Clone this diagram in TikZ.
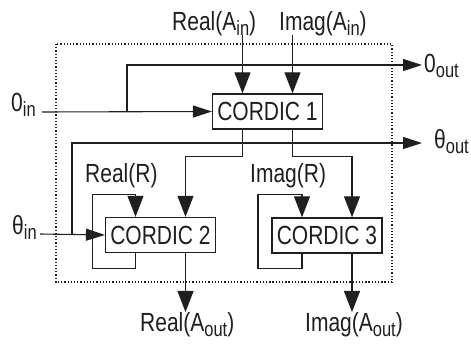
\documentclass[tikz,border=0pt]{standalone}
\usepackage{fontspec}
\setmainfont{Liberation Sans}
\usepackage{tikz}
\usetikzlibrary{arrows.meta, calc}
\newcommand{\pedice}[1]{\raisebox{-4pt}{\fontsize{16.5}{16.5}\selectfont #1}}
\tikzset{
    linea/.style = {line width = 1.1pt, black!88},
    frecciaH/.style = {linea, -{Triangle[length=19pt, width=12pt]}},
    frecciaV/.style = {linea, -{Triangle[length=21pt, width=16pt]}},
    blocco/.style = {draw, linea, fill = white, inner sep = 0pt, minimum width = 110pt, minimum height = 28pt, yscale = 1.25, font = \fontsize{21}{21}\selectfont, text = black!88},
    etichetta/.style = {inner sep = 0pt, anchor = base west, yscale = 1.25, font = \fontsize{21}{21}\selectfont, text = black!88}
}

\begin{document}
\begin{tikzpicture}[x = 1pt, y = -1pt]
    % parametri
    \pgfmathsetmacro{\off}{25}
    \pgfmathsetmacro{\giro}{15}
    % Clip
    \useasboundingbox (0,0) rectangle (471,344);
    % riquadro tratteggiato
    \draw[linea, dash pattern = on 1.3pt off 1.9pt] (56,44) rectangle (392,282);
    % blocchi
    \node[blocco] (cuno) at (267.5,111.5) {CORDIC 1};
    \node[blocco] (cdue) at (160.5,235) {CORDIC 2};
    \node[blocco] (ctre) at (327,235.5) {CORDIC 3};
    % etichette
    \node[etichetta] (reAin) at (172,31) {Real(A\pedice{in})};
    \node[etichetta] (imAin) at (279,31) {Imag(A\pedice{in})};
    \node[etichetta] (zin) at (11,112) {0\pedice{in}};
    \node[etichetta] (zout) at (424,73) {0\pedice{out}};
    \node[etichetta] (tin) at (12,235) {θ\pedice{in}};
    \node[etichetta] (tout) at (434,149) {θ\pedice{out}};
    \node[etichetta] (reR) at (85,183) {Real(R)};
    \node[etichetta] (imR) at (250,183) {Imag(R)};
    \node[etichetta] (reAout) at (140,332) {Real(A\pedice{out})};
    \node[etichetta] (imAout) at (305,332) {Imag(A\pedice{out})};
    % Coordinate
    \coordinate (cunoA) at ([xshift=-\off pt]cuno.north);
    \coordinate (cunoB) at ([xshift=\off pt]cuno.north);
    \coordinate (cunoC) at ([xshift=-\off pt]cuno.south);
    \coordinate (cunoD) at ([xshift=\off pt]cuno.south);
    \coordinate (zinE) at (42,112);
    \coordinate (tinE) at (40,234);
    \coordinate (zoutE) at (422,65);
    \coordinate (toutE) at (422,143);
    % ingressi di CORDIC 1
    \draw[frecciaV] (cunoA |- 0,35) -- (cunoA);
    \draw[frecciaV] (cunoB |- 0,35) -- (cunoB);
    \draw[frecciaH] (zinE) -- (cuno.west);
    \draw[frecciaH] (127,112) |- (zoutE);
    % theta
    \draw[frecciaH] (tinE) -- (cdue.west);
    \draw[frecciaH] (72,234) |- (toutE);
    % uscite di CORDIC 1
    \draw[frecciaV] (cunoC) -- ++(0,27) -| ([xshift=\off pt]cdue.north);
    \draw[frecciaV] (cunoD) -- ++(0,27) -| ([xshift=\off pt]ctre.north);
    % anelli di retroazione
    \draw[frecciaV] ([xshift=-\off pt]cdue.south) -- ++(0,\giro) -- ++(-43,0) -- ++(0,-74) -- ++(43,0) -- ([xshift=-\off pt]cdue.north);
    \draw[frecciaV] ([xshift=-\off pt]ctre.south) -- ++(0,\giro) -- ++(-44,0) -- ++(0,-74) -- ++(44,0) -- ([xshift=-\off pt]ctre.north);
    % uscite finali
    \draw[frecciaV] ([xshift=\off pt]cdue.south) -- ([xshift=\off pt]cdue.south |- 0,312);
    \draw[frecciaV] ([xshift=\off pt]ctre.south) -- ([xshift=\off pt]ctre.south |- 0,312);
\end{tikzpicture}
\end{document}
